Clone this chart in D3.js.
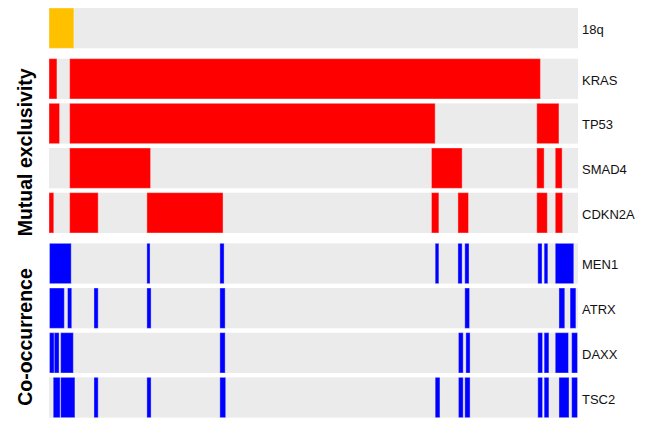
<!DOCTYPE html>
<html>
<head>
<meta charset="utf-8">
<script src="https://cdn.jsdelivr.net/npm/d3@7"></script>
<style>
  html, body { margin: 0; padding: 0; background: #fff; }
  svg { display: block; }
  text { font-family: "Liberation Sans", Arial, sans-serif; }
</style>
</head>
<body>
<svg id="chart" width="651" height="422"></svg>
<script>
// Altered cases per gene, as [start, end] positions along the sorted cohort (% of cases)
const genes = ["18q", "KRAS", "TP53", "SMAD4", "CDKN2A", "MEN1", "ATRX", "DAXX", "TSC2"];
const geneGroup = ["loss", "mutex", "mutex", "mutex", "mutex", "cooc", "cooc", "cooc", "cooc"];

const alt18q   = [[0, 4.7]];
const altKRAS  = [[0, 1.5], [3.9, 92.9]];
const altTP53  = [[0, 2.0], [3.9, 73.0], [92.2, 96.4]];
const altSMAD4 = [[3.9, 19.2], [72.3, 78.1], [92.2, 93.6], [95.7, 97.0]];
const altCDKN2A = [[0, 0.9], [3.9, 9.3], [18.5, 32.9], [72.3, 73.7], [77.3, 79.3], [92.2, 94.2], [95.7, 97.1]];
const altMEN1  = [[0.1, 4.2], [18.5, 19.1], [32.3, 33.1], [73.0, 73.7], [77.3, 78.1], [78.6, 79.4], [92.4, 93.2], [93.6, 94.3], [95.7, 99.2]];
const altATRX  = [[0.1, 2.9], [3.5, 4.3], [8.5, 9.3], [18.5, 19.3], [32.3, 33.3], [78.6, 79.5], [96.4, 97.5], [98.5, 99.6]];
const altDAXX  = [[0.1, 1.0], [1.0, 1.9], [2.2, 4.6], [32.3, 33.3], [77.4, 78.3], [78.8, 79.6], [92.4, 93.3], [93.6, 94.5], [95.7, 98.2], [98.8, 99.9]];
const altTSC2  = [[0.8, 2.1], [2.2, 4.9], [8.5, 9.3], [18.5, 19.3], [32.3, 33.4], [73.0, 73.9], [77.4, 78.3], [78.6, 79.6], [92.4, 93.3], [93.6, 94.5], [96.4, 98.3], [98.8, 99.9]];

const alterations = [alt18q, altKRAS, altTP53, altSMAD4, altCDKN2A, altMEN1, altATRX, altDAXX, altTSC2];

const groupLabels = ["Mutual exclusivity", "Co-occurrence"];
const groupKeys = ["mutex", "cooc"];
const groupColor = { loss: "#ffc000", mutex: "#ff0000", cooc: "#0000ff" };

// Layout
const svg = d3.select("#chart");
const trackLeft = 49, trackRight = 578;
const trackTop = 8, rowPitch = 44.67, rowH = 40.3, groupGap = 6;

const x = d3.scaleLinear().domain([0, 100]).range([trackLeft, trackRight]);

// vertical position of each gene row, with an extra gap between groups
const rowY = {};
let yPos = trackTop;
genes.forEach((g, i) => {
  if (i > 0 && geneGroup[i] !== geneGroup[i - 1]) yPos += groupGap;
  rowY[g] = yPos;
  yPos += rowPitch;
});

const rows = svg.selectAll("g.row")
  .data(genes.map((g, i) => ({ gene: g, group: geneGroup[i], segs: alterations[i] })))
  .join("g")
  .attr("class", "row")
  .attr("transform", d => `translate(0,${rowY[d.gene]})`);

// grey track
rows.append("rect")
  .attr("x", x(0))
  .attr("y", 0)
  .attr("width", x(100) - x(0))
  .attr("height", rowH)
  .attr("fill", "#ebebeb");

// altered cases
rows.selectAll("rect.alt")
  .data(d => d.segs.map(s => ({ s, group: d.group })))
  .join("rect")
  .attr("class", "alt")
  .attr("x", d => x(d.s[0]))
  .attr("y", 0)
  .attr("width", d => x(d.s[1]) - x(d.s[0]))
  .attr("height", rowH)
  .attr("fill", d => groupColor[d.group])
  .attr("stroke", "rgba(255,255,255,0.35)")
  .attr("stroke-width", 1);

// gene names
rows.append("text")
  .attr("x", trackRight + 4)
  .attr("y", rowH / 2 + 6)
  .attr("font-size", 13)
  .attr("fill", "#111")
  .text(d => d.gene);

// group titles, rotated along the left side
groupKeys.forEach((key, k) => {
  const members = genes.filter((g, i) => geneGroup[i] === key);
  const y0 = rowY[members[0]];
  const y1 = rowY[members[members.length - 1]] + rowH;
  const cy = (y0 + y1) / 2 + 6.5;
  svg.append("text")
    .attr("transform", `translate(32,${cy}) rotate(-90)`)
    .attr("text-anchor", "middle")
    .attr("font-size", 19.5)
    .attr("font-weight", "bold")
    .attr("fill", "#000")
    .text(groupLabels[k]);
});
</script>
</body>
</html>
